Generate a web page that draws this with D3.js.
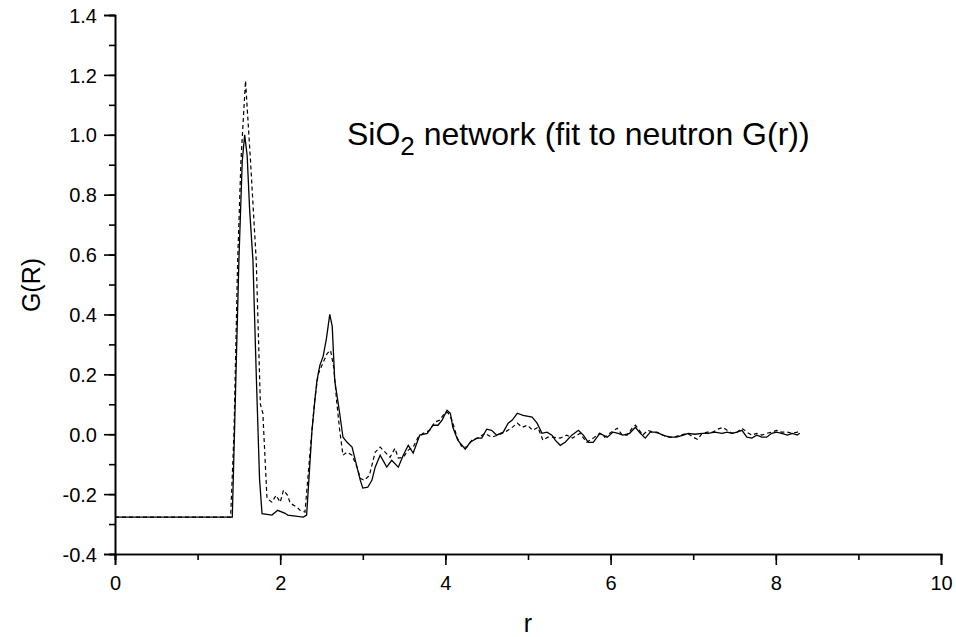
<!DOCTYPE html>
<html>
<head>
<meta charset="utf-8">
<script src="https://cdn.jsdelivr.net/npm/d3@7"></script>
<style>
  html, body { margin: 0; padding: 0; background: #fff; }
  svg { display: block; font-family: "Liberation Sans", Arial, sans-serif; }
</style>
</head>
<body>
<svg id="chart" width="956" height="637"></svg>
<script>
// ---- data ----
const xTickValues = [0, 2, 4, 6, 8, 10];
const yTickValues = [-0.4, -0.2, 0.0, 0.2, 0.4, 0.6, 0.8, 1.0, 1.2, 1.4];

// solid curve: r
const solidR = [0, 1.40, 1.42, 1.46, 1.50, 1.54, 1.57, 1.60, 1.63, 1.67, 1.71, 1.75, 1.78,
  1.90, 1.97, 2.06, 2.09, 2.28, 2.32, 2.385, 2.42, 2.445, 2.48, 2.52, 2.56, 2.60, 2.63,
  2.66, 2.72, 2.76, 2.81, 2.87, 2.93, 2.97, 3.00, 3.06, 3.11, 3.15, 3.21, 3.29, 3.35,
  3.43, 3.49, 3.55, 3.61, 3.69, 3.78, 3.85, 3.91, 3.96, 4.02, 4.06, 4.09, 4.15, 4.24,
  4.30, 4.38, 4.44, 4.50, 4.56, 4.62, 4.70, 4.76, 4.81, 4.87, 4.94, 5.05, 5.11, 5.17,
  5.23, 5.29, 5.33, 5.39, 5.45, 5.53, 5.61, 5.67, 5.73, 5.79, 5.87, 5.96, 6.03, 6.09,
  6.15, 6.23, 6.30, 6.36, 6.42, 6.48, 6.56, 6.63, 6.72, 6.80, 6.88, 6.94, 7.02, 7.11,
  7.18, 7.26, 7.35, 7.41, 7.47, 7.53, 7.59, 7.65, 7.71, 7.77, 7.83, 7.89, 7.95, 8.01,
  8.07, 8.14, 8.20, 8.26, 8.29];
// solid curve: G(r)
const solidG = [-0.277, -0.277, -0.277, 0.15, 0.58, 0.91, 1.0, 0.93, 0.75, 0.58, 0.2, -0.15, -0.265,
  -0.27, -0.254, -0.264, -0.27, -0.277, -0.27, 0.013, 0.114, 0.18, 0.23, 0.26, 0.32, 0.40, 0.36,
  0.18, 0.07, -0.01, -0.027, -0.043, -0.11, -0.154, -0.18, -0.177, -0.154, -0.11, -0.07, -0.11, -0.087,
  -0.11, -0.07, -0.037, -0.063, -0.003, 0.003, 0.03, 0.03, 0.047, 0.08, 0.07, 0.023, -0.02, -0.05,
  -0.027, -0.013, -0.013, 0.017, 0.013, -0.003, 0.007, 0.037, 0.047, 0.07, 0.063, 0.057, 0.037, 0.003,
  0.007, -0.003, -0.02, -0.037, -0.027, -0.003, 0.013, -0.003, -0.027, -0.027, 0.003, -0.01, 0.007, 0.003,
  -0.003, 0.003, 0.023, 0.003, -0.013, 0.007, 0.007, -0.003, -0.01, -0.01, -0.003, 0.003, 0.0, 0.003,
  0.003, 0.007, 0.003, 0.007, 0.003, 0.007, 0.013, -0.01, -0.013, -0.003, -0.01, -0.01, 0.003, 0.007,
  0.003, -0.003, 0.003, -0.003, 0.003];

// dashed curve: r
const dashedR = [0, 1.40, 1.44, 1.485, 1.525, 1.58, 1.64, 1.71, 1.76, 1.79, 1.84, 1.90, 1.95,
  2.00, 2.04, 2.09, 2.12, 2.20, 2.24, 2.30, 2.38, 2.42, 2.46, 2.52, 2.57, 2.61, 2.65,
  2.68, 2.72, 2.76, 2.81, 2.87, 2.93, 2.97, 3.02, 3.08, 3.15, 3.21, 3.27, 3.33, 3.39,
  3.43, 3.49, 3.55, 3.61, 3.67, 3.73, 3.81, 3.87, 3.93, 3.99, 4.03, 4.08, 4.14, 4.20,
  4.26, 4.32, 4.39, 4.48, 4.56, 4.64, 4.72, 4.81, 4.87, 4.93, 4.99, 5.06, 5.12, 5.18,
  5.24, 5.30, 5.39, 5.47, 5.54, 5.63, 5.71, 5.79, 5.87, 5.93, 5.99, 6.08, 6.14, 6.20,
  6.26, 6.30, 6.33, 6.39, 6.45, 6.51, 6.60, 6.68, 6.76, 6.84, 6.93, 7.00, 7.05, 7.11,
  7.17, 7.24, 7.30, 7.36, 7.41, 7.47, 7.53, 7.59, 7.65, 7.71, 7.77, 7.83, 7.89, 7.95,
  8.01, 8.07, 8.14, 8.20, 8.26, 8.29];
// dashed curve: G(r)
const dashedG = [-0.277, -0.277, 0.0, 0.58, 0.915, 1.18, 0.915, 0.58, 0.1, 0.07, -0.214, -0.227, -0.204,
  -0.227, -0.187, -0.204, -0.23, -0.243, -0.254, -0.26, 0.0, 0.12, 0.2, 0.24, 0.27, 0.28, 0.22,
  0.12, 0.013, -0.07, -0.06, -0.07, -0.11, -0.147, -0.154, -0.137, -0.06, -0.043, -0.06, -0.077, -0.047,
  -0.08, -0.077, -0.053, -0.043, -0.01, 0.003, 0.013, 0.04, 0.047, 0.07, 0.073, 0.047, -0.01, -0.043,
  -0.043, -0.02, -0.013, 0.003, -0.01, -0.003, 0.007, 0.023, 0.037, 0.023, 0.03, 0.013, 0.023, -0.02,
  -0.01, -0.01, -0.013, -0.003, -0.013, 0.003, -0.027, -0.013, 0.003, -0.01, 0.003, 0.02, -0.003, -0.003,
  0.02, 0.03, 0.02, -0.003, 0.013, 0.007, 0.003, -0.01, -0.01, -0.003, 0.003, -0.01, -0.017, 0.003,
  0.007, 0.007, 0.017, 0.023, 0.013, 0.003, 0.007, 0.02, 0.007, -0.003, 0.003, -0.003, 0.003, 0.007,
  0.013, 0.007, 0.007, 0.003, 0.007, 0.01];

const titleMain = "SiO";
const titleSub = "2";
const titleRest = " network (fit to neutron G(r))";
const xLabel = "r";
const yLabel = "G(R)";

// ---- drawing ----
const svg = d3.select("#chart");
const x = d3.scaleLinear().domain([0, 10]).range([115, 941]);
const y = d3.scaleLinear().domain([-0.4, 1.4]).range([554, 15]);

const fmtY = d => d3.format(".1f")(d).replace("\u2212", "-");

// minor ticks
const gx = svg.append("g").attr("transform", `translate(0,${y(-0.4)})`);
gx.call(d3.axisBottom(x).tickValues(d3.range(0, 11, 1)).tickSize(6).tickFormat(""));
const gxMajor = svg.append("g").attr("transform", `translate(0,${y(-0.4)})`);
gxMajor.call(d3.axisBottom(x).tickValues(xTickValues).tickSize(11).tickPadding(6).tickFormat(d3.format("d")));

const gy = svg.append("g").attr("transform", `translate(${x(0)},0)`);
gy.call(d3.axisLeft(y).tickValues(d3.range(-4, 15, 1).map(d => d / 10)).tickSize(6).tickFormat(""));
const gyMajor = svg.append("g").attr("transform", `translate(${x(0)},0)`);
gyMajor.call(d3.axisLeft(y).tickValues(yTickValues).tickSize(11).tickPadding(7).tickFormat(fmtY));

svg.selectAll(".domain").attr("stroke", "#000").attr("stroke-width", 1.6);
svg.selectAll(".tick line").attr("stroke", "#000").attr("stroke-width", 1.6);
svg.selectAll(".tick text").attr("fill", "#000")
  .style("font-family", '"Liberation Sans", Arial, sans-serif').style("font-size", "20px");
gxMajor.selectAll(".tick text").attr("dy", null).attr("y", 36);
gyMajor.selectAll(".tick text").attr("dy", "0.36em");

const line = d3.line().x(d => x(d[0])).y(d => y(d[1]));

svg.append("path")
  .datum(dashedR.map((r, i) => [r, dashedG[i]]))
  .attr("d", line)
  .attr("fill", "none").attr("stroke", "#000").attr("stroke-width", 1.2)
  .attr("stroke-dasharray", "4,3");

svg.append("path")
  .datum(solidR.map((r, i) => [r, solidG[i]]))
  .attr("d", line)
  .attr("fill", "none").attr("stroke", "#000").attr("stroke-width", 1.3);

// title
const t = svg.append("text").attr("x", 347).attr("y", 145)
  .style("font-size", "32px").attr("fill", "#000");
t.append("tspan").text(titleMain);
t.append("tspan").attr("dy", 10).style("font-size", "26px").text(titleSub);
t.append("tspan").attr("dy", -10).text(titleRest);

// axis labels
svg.append("text").attr("x", 528).attr("y", 632).attr("text-anchor", "middle")
  .style("font-size", "25px").attr("fill", "#000").text(xLabel);
svg.append("text").attr("transform", "translate(40,285) rotate(-90)")
  .attr("text-anchor", "middle").style("font-size", "25px").attr("fill", "#000").text(yLabel);
</script>
</body>
</html>
